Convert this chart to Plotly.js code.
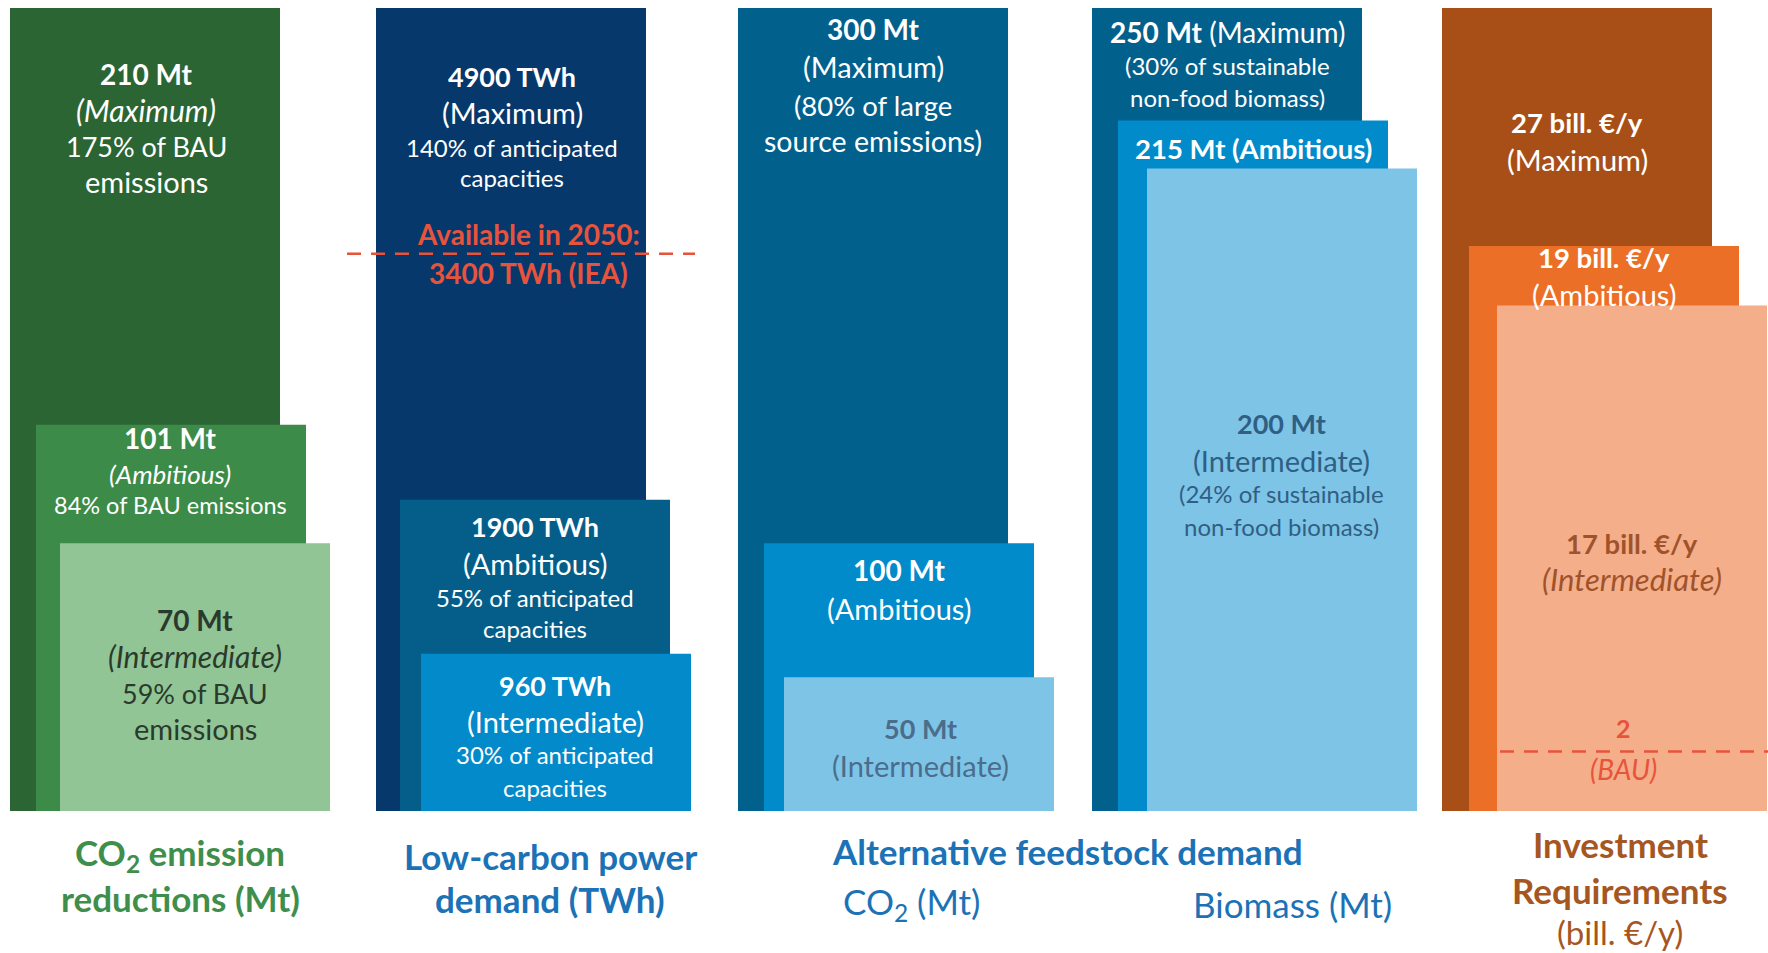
<!DOCTYPE html>
<html>
<head>
<meta charset="utf-8">
<script src="https://cdn.plot.ly/plotly-3.0.1.min.js"></script>
<style>
  html, body { margin: 0; padding: 0; background: #ffffff; }
  #chart { width: 1768px; height: 953px; }
</style>
</head>
<body>
<div id="chart"></div>
<script>
// ---- values (Maximum, Ambitious, Intermediate) ----
const scenarios = ['Maximum', 'Ambitious', 'Intermediate'];
const co2Reduction = [210, 101, 70];          // Mt
const co2ShareBAU = [175, 84, 59];            // % of BAU emissions
const powerDemand = [4900, 1900, 960];        // TWh
const powerShareCapacity = [140, 55, 30];     // % of anticipated capacities
const powerAvailable2050 = 3400;              // TWh (IEA)
const feedstockCO2 = [300, 100, 50];          // Mt
const feedstockCO2Share = 80;                 // % of large source emissions
const feedstockBiomass = [250, 215, 200];     // Mt
const biomassShare = [30, 24];                // % of sustainable non-food biomass (Max, Intermediate)
const investment = [27, 19, 17];              // bill. €/y
const investmentBAU = 2;                      // bill. €/y

// ---- drawing setup ----
const W = 1768, H = 953;
const FONT = 'Lato, "Noto Sans", sans-serif';
const barWidth = 270;
const plotTop = 8, plotBottom = 811;          // pixel rows of the value axes
const barLefts = [[10, 36, 60], [376, 400, 421], [738, 764, 784], [1092, 1118, 1147], [1442, 1469, 1497]];
const groupValues = [co2Reduction, powerDemand, feedstockCO2, feedstockBiomass, investment];
const groupColors = [
  ['#2c6534', '#3d8b48', '#91c595'],
  ['#06386b', '#045e89', '#038aca'],
  ['#02608c', '#018bca', '#7ec4e6'],
  ['#02608c', '#018bca', '#7ec4e6'],
  ['#a84f17', '#ec6f27', '#f4ae8a']
];
const RED = '#e8533c';

const py = p => 1 - p / H;   // pixel row -> paper fraction

const traces = [];
groupValues.forEach((vals, g) => {
  vals.forEach((v, s) => {
    traces.push({
      type: 'bar',
      name: scenarios[s],
      x: [barLefts[g][s] + barWidth / 2],
      y: [v],
      width: [barWidth],
      base: 0,
      marker: { color: groupColors[g][s], line: { width: 0 } },
      xaxis: 'x',
      yaxis: g === 0 ? 'y' : 'y' + (g + 1),
      hoverinfo: 'skip',
      showlegend: false
    });
  });
});

const annotations = [];
function line(x, y, text, size, color) {
  annotations.push({
    x: x, y: py(y), xref: 'x', yref: 'paper', text: text, showarrow: false,
    xanchor: 'center', yanchor: 'middle',
    font: { family: FONT, size: size, color: color }
  });
}
const WHITE = '#ffffff';
const B = 27;   // bold value lines
const R = 29;   // regular lines
const S = 24;   // small lines

// CO2 emission reductions
line(146, 74, `<b>${co2Reduction[0]} Mt</b>`, 28, WHITE);
line(146, 110, '<i>(Maximum)</i>', 30, WHITE);
line(146, 146, `${co2ShareBAU[0]}% of BAU`, 27, WHITE);
line(146, 181, 'emissions', R, WHITE);
line(170, 438, `<b>${co2Reduction[1]} Mt</b>`, 28, WHITE);
line(170, 474, '<i>(Ambitious)</i>', 26, WHITE);
line(170, 505, `${co2ShareBAU[1]}% of BAU emissions`, 23.5, WHITE);
const DARKG = '#2a3a2c';
line(195, 620, `<b>${co2Reduction[2]} Mt</b>`, 28, DARKG);
line(195, 656, '<i>(Intermediate)</i>', 30, DARKG);
line(195, 693, `${co2ShareBAU[2]}% of BAU`, 27, DARKG);
line(195, 728, 'emissions', R, DARKG);

// Low-carbon power demand
line(512, 76, `<b>${powerDemand[0]} TWh</b>`, B, WHITE);
line(512, 112, '(Maximum)', R, WHITE);
line(512, 148, `${powerShareCapacity[0]}% of anticipated`, S, WHITE);
line(512, 178, 'capacities', S, WHITE);
line(528, 234, '<b>Available in 2050:</b>', 28, RED);
line(528, 273, `<b>${powerAvailable2050} TWh (IEA)</b>`, 28, RED);
line(535, 526, `<b>${powerDemand[1]} TWh</b>`, B, WHITE);
line(535, 563, '(Ambitious)', R, WHITE);
line(535, 597, `${powerShareCapacity[1]}% of anticipated`, S, WHITE);
line(535, 628, 'capacities', S, WHITE);
line(555, 685, `<b>${powerDemand[2]} TWh</b>`, B, WHITE);
line(555, 721, '(Intermediate)', R, WHITE);
line(555, 754, `${powerShareCapacity[2]}% of anticipated`, S, WHITE);
line(555, 787, 'capacities', S, WHITE);

// Alternative feedstock: CO2
line(873, 29, `<b>${feedstockCO2[0]} Mt</b>`, 28, WHITE);
line(873, 67, '(Maximum)', R, WHITE);
line(873, 105, `(${feedstockCO2Share}% of large`, 27.5, WHITE);
line(873, 141, 'source emissions)', 28.5, WHITE);
line(899, 570, `<b>${feedstockCO2[1]} Mt</b>`, 28, WHITE);
line(899, 608, '(Ambitious)', R, WHITE);
const GREYB = '#4b6d8c';
line(920, 728, `<b>${feedstockCO2[2]} Mt</b>`, 27, GREYB);
line(920, 765, '(Intermediate)', R, GREYB);

// Alternative feedstock: biomass
line(1227, 32, `<b>${feedstockBiomass[0]} Mt</b> (Maximum)`, 28, WHITE);
line(1227, 66, `(${biomassShare[0]}% of sustainable`, S, WHITE);
line(1227, 97, 'non-food biomass)', S, WHITE);
line(1253, 149, `<b>${feedstockBiomass[1]} Mt (Ambitious)</b>`, 27.5, WHITE);
const DARKB = '#2f5f84';
line(1281, 424, `<b>${feedstockBiomass[2]} Mt</b>`, 27, DARKB);
line(1281, 460, '(Intermediate)', R, DARKB);
line(1281, 494, `(${biomassShare[1]}% of sustainable`, S, DARKB);
line(1281, 526, 'non-food biomass)', S, DARKB);

// Investment requirements
line(1577, 123, `<b>${investment[0]} bill. €/y</b>`, 27.5, WHITE);
line(1577, 159, '(Maximum)', R, WHITE);
line(1604, 258, `<b>${investment[1]} bill. €/y</b>`, 27.5, WHITE);
line(1604, 294, '(Ambitious)', R, WHITE);
const BROWN = '#a0532b';
line(1632, 543, `<b>${investment[2]} bill. €/y</b>`, 27.5, BROWN);
line(1632, 579, '<i>(Intermediate)</i>', 31, BROWN);
line(1623, 728, `<b>${investmentBAU}</b>`, 25, RED);
line(1623, 769, '<i>(BAU)</i>', 28, RED);

// category captions
const GREEN = '#3f8e4b', BLUE = '#1b72b6', BROWNT = '#a6561f';
const C = 35;
line(180, 854, '<b>CO<sub>2</sub> emission</b>', C, GREEN);
line(180, 898, '<b>reductions (Mt)</b>', C, GREEN);
line(550, 856, '<b>Low-carbon power</b>', C, BLUE);
line(550, 899, '<b>demand (TWh)</b>', C, BLUE);
line(1067, 851, '<b>Alternative feedstock demand</b>', C, BLUE);
line(911, 903, 'CO<sub>2</sub> (Mt)', C, BLUE);
line(1292, 904, 'Biomass (Mt)', C, BLUE);
line(1620, 844, '<b>Investment</b>', C, BROWNT);
line(1620, 890, '<b>Requirements</b>', C, BROWNT);
line(1620, 932, '(bill. €/y)', 33, BROWNT);

// reference lines
const shapes = [
  { type: 'line', xref: 'x', yref: 'y2', x0: 347, x1: 695, y0: powerAvailable2050, y1: powerAvailable2050,
    line: { color: RED, width: 2.5, dash: '14px,10px' }, layer: 'above' },
  { type: 'line', xref: 'x', yref: 'y5', x0: 1500, x1: 1768, y0: investmentBAU, y1: investmentBAU,
    line: { color: RED, width: 2.5, dash: '14px,10px' }, layer: 'above' }
];

const domainY = [1 - plotBottom / H, 1 - plotTop / H];
const hiddenY = (max, overlay) => Object.assign({
  domain: domainY, range: [0, max], visible: false, fixedrange: true
}, overlay ? { overlaying: 'y' } : {});

const layout = {
  width: W, height: H,
  margin: { l: 0, r: 0, t: 0, b: 0, pad: 0 },
  paper_bgcolor: '#ffffff', plot_bgcolor: 'rgba(0,0,0,0)',
  barmode: 'overlay',
  showlegend: false,
  xaxis: { range: [0, W], domain: [0, 1], visible: false, fixedrange: true },
  yaxis: hiddenY(co2Reduction[0], false),
  yaxis2: hiddenY(powerDemand[0], true),
  yaxis3: hiddenY(feedstockCO2[0], true),
  yaxis4: hiddenY(feedstockBiomass[0], true),
  yaxis5: hiddenY(investment[0], true),
  annotations: annotations,
  shapes: shapes
};

Plotly.newPlot('chart', traces, layout, { displayModeBar: false, staticPlot: true });
</script>
</body>
</html>
